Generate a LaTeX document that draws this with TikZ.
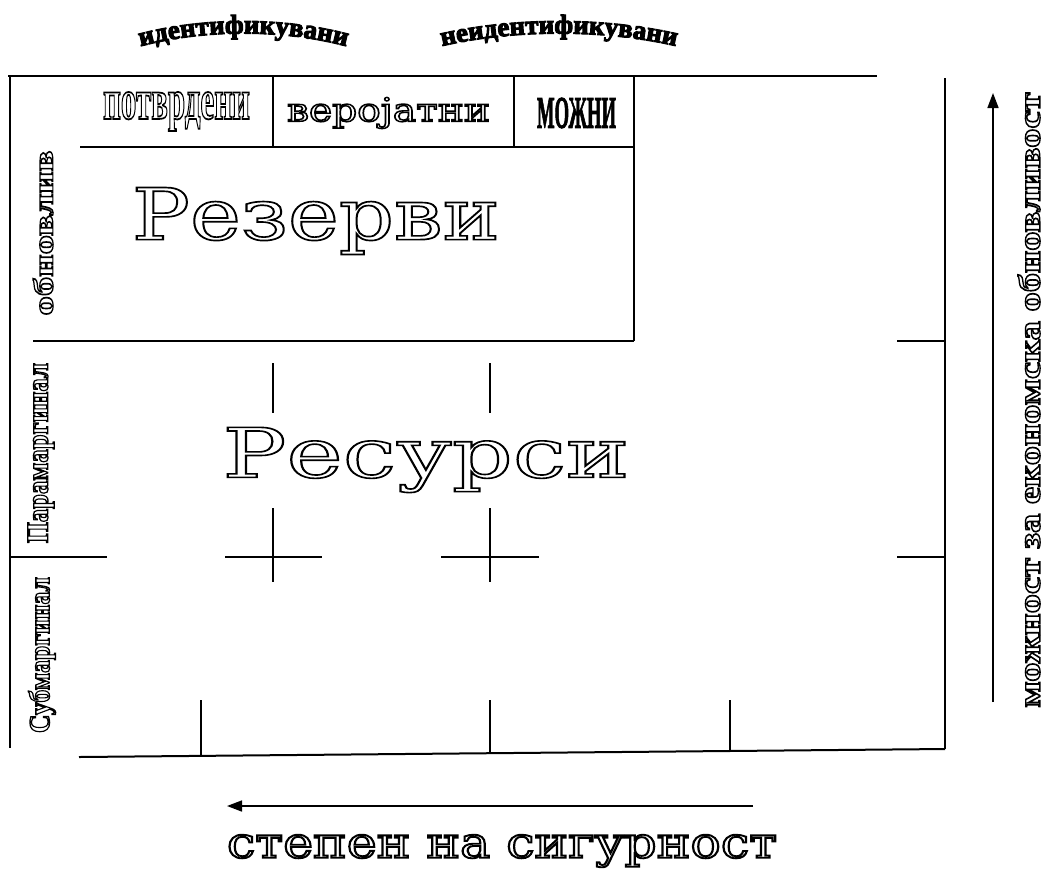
\documentclass[tikz,border=0pt]{standalone}
\usepackage{fontspec}
\usepackage{graphicx}
\setmainfont{Liberation Serif}
\newfontfamily\boldserif{Liberation Serif Bold}
\newfontfamily\heavyserif{Liberation Serif Bold}[FakeBold=4,FakeStretch=1.0]
\newfontfamily\heavycaps{Liberation Serif Bold}[FakeBold=2.5]
\newfontfamily\widefont{DejaVu Serif}
\usetikzlibrary{arrows.meta,decorations.text}
\newcommand\olt[2]{\special{pdf:literal direct 1 Tr #1 w}#2\special{pdf:literal direct 0 Tr}}
\newcommand\fitto[3]{\resizebox{#1pt}{#2pt}{#3}}
\tikzset{
  frame/.style={line width=2pt},
  midline/.style={line width=1.6pt},
  tick/.style={line width=1.3pt},
  lbl/.style={inner sep=0pt, outer sep=0pt},
  arr/.style={line width=1.6pt, -{Triangle[length=15pt,width=11pt]}},
}
\begin{document}
\begin{tikzpicture}[x=1pt,y=-1pt]
\useasboundingbox (0,0) rectangle (1046,868);

% frame lines
\draw[frame] (8,76) -- (877,76);
\draw[frame] (10,76) -- (10,748);
\draw[frame] (79,757) -- (945,749);
\draw[midline] (945,78) -- (945,749);
% reserves box
\draw[midline] (273,76) -- (273,147);
\draw[midline] (514,76) -- (514,147);
\draw[midline] (634,76) -- (634,341);
\draw[midline] (80,147) -- (634,147);
\draw[frame] (33,341) -- (634,341);
% ticks
\draw[midline] (897,341) -- (945,341);
\draw[midline] (897,557) -- (945,557);
\draw[midline] (10,557) -- (107,557);
\draw[tick] (273,363) -- (273,413);
\draw[tick] (490,363) -- (490,413);
\draw[tick] (273,508) -- (273,582);
\draw[tick] (490,508) -- (490,582);
\draw[tick] (225,557) -- (322,557);
\draw[tick] (441,557) -- (539,557);
\draw[tick] (201,700) -- (201,756);
\draw[tick] (490,700) -- (490,753);
\draw[tick] (730,700) -- (730,751);

% arrows
\coordinate (hstart) at (753,806);
\coordinate (hend) at (227,806);
\draw[arr] (hstart) -- (hend);
\coordinate (vstart) at (993,702);
\coordinate (vend) at (993,93);
\draw[arr] (vstart) -- (vend);

% arched labels
\path[decorate,decoration={text along path,text align=center,
  text={|\heavyserif\fontsize{27pt}{27pt}\selectfont|идентификувани}}]
  (138,47) .. controls (203,29) and (284,29) .. (349,47);
\path[decorate,decoration={text along path,text align=center,
  text={|\heavyserif\fontsize{27pt}{27pt}\selectfont|неидентификувани}}]
  (438,47) .. controls (513,29) and (605,29) .. (680,47);

% top row
\node[lbl] (potvrdeni) at (176.5,111.5) {\fitto{147}{27}{\boldserif\fontsize{36pt}{36pt}\selectfont\olt{1.1}{потврдени}}};
\node[lbl] (verojatni) at (388.5,113) {\fitto{203}{24}{\widefont\fontsize{30pt}{30pt}\selectfont\olt{1.3}{веројатни}}};
\node[lbl] (mozni) at (576.5,113) {\fitto{79}{30}{\heavycaps\fontsize{45pt}{45pt}\selectfont МОЖНИ}};

% big labels
\node[lbl] (rezervi) at (316,221) {\fitto{368}{52}{\widefont\fontsize{60pt}{60pt}\selectfont\olt{1.4}{Резерви}}};
\node[lbl] (resursi) at (426,460) {\fitto{407}{50}{\widefont\fontsize{60pt}{60pt}\selectfont\olt{1.4}{Ресурси}}};

% rotated left labels
\node[lbl,rotate=90] (obnovliv) at (43,233) {\fitto{165}{20}{\boldserif\fontsize{30pt}{30pt}\selectfont\olt{1.3}{обновлив}}};
\node[lbl,rotate=90] (paramarg) at (41,453) {\fitto{180}{20}{\boldserif\fontsize{30pt}{30pt}\selectfont\olt{1.3}{Парамаргинал}}};
\node[lbl,rotate=90] (submarg) at (42,655) {\fitto{156}{21}{\boldserif\fontsize{30pt}{30pt}\selectfont\olt{1.3}{Субмаргинал}}};

% axis labels
\node[lbl] (sigurnost) at (502,851) {\fitto{550}{23}{\widefont\fontsize{30pt}{30pt}\selectfont\olt{1.3}{степен на сигурност}}};
\node[lbl,rotate=90] (moznost) at (1029,400) {\fitto{615}{22}{\boldserif\fontsize{30pt}{30pt}\selectfont\olt{1.3}{можност за економска обновливост}}};
\end{tikzpicture}
\end{document}
